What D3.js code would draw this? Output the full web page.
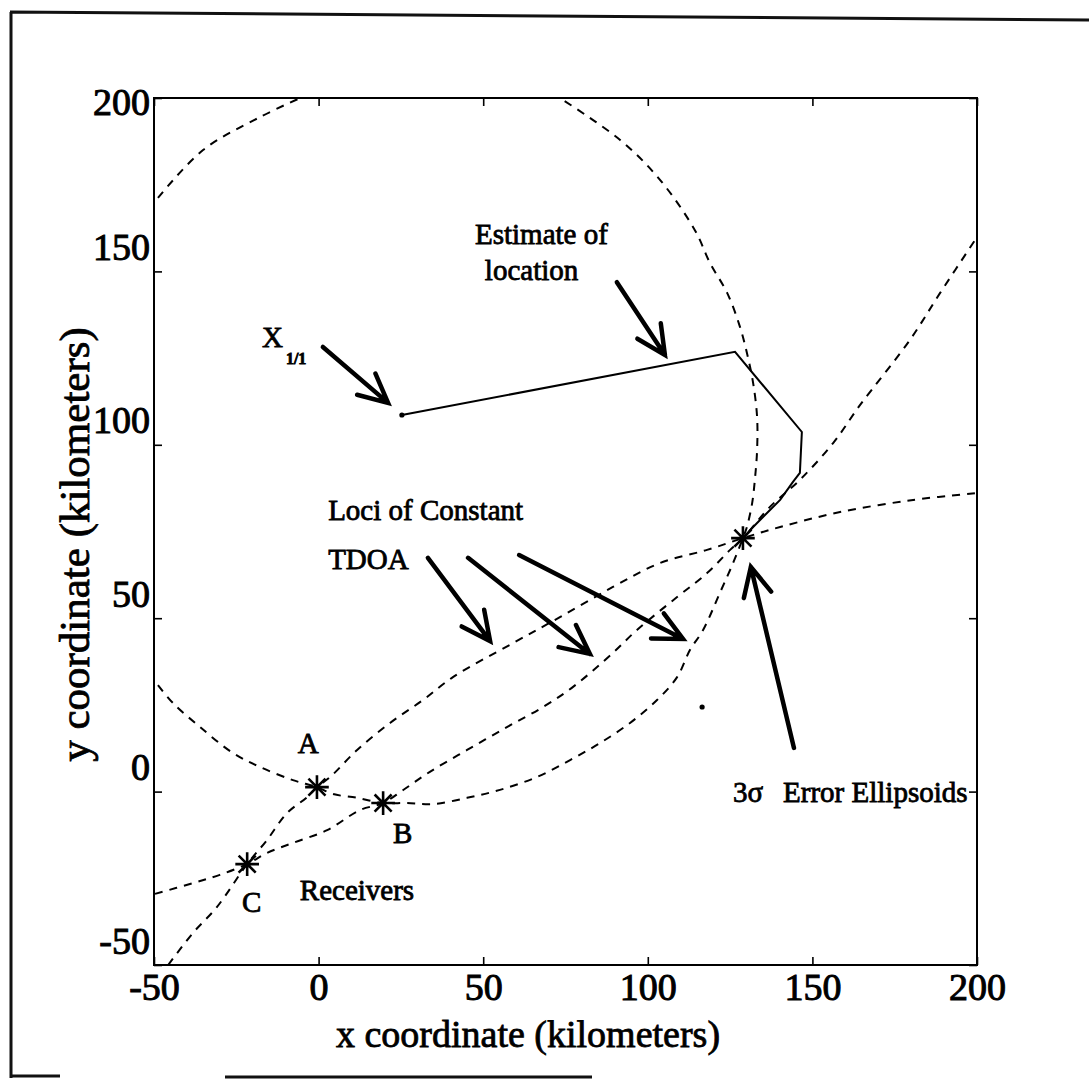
<!DOCTYPE html>
<html>
<head>
<meta charset="utf-8">
<script src="https://cdn.jsdelivr.net/npm/d3@7"></script>
<style>
  html, body { margin: 0; padding: 0; background: #fff; }
  svg { display: block; }
  text { font-family: "Liberation Serif", "Times New Roman", serif; fill: #000; }
</style>
</head>
<body>
<svg id="chart"></svg>
<script>
const W = 1089, H = 1088;
const box = { left: 154, right: 977, top: 98, bottom: 965 };

// axis ticks
const xTicks = [-50, 0, 50, 100, 150, 200];
const yTicks = [-50, 0, 50, 100, 150, 200];

// receivers and emitter position (km)
const receivers = [
  { name: "A", x: -0.5, y: 1.3 },
  { name: "B", x: 19.6, y: -3.3 },
  { name: "C", x: -21.7, y: -20.9 }
];
const emitter = [{ x: 128.9, y: 73.1 }];

// loci of constant TDOA (km)
const locusOneTop = [
  [-48.8, 171.2], [-35.1, 185.0], [-17.8, 194.5], [-5.6, 200]
];
const locusOne = [
  [-48.8, 30.7], [-44.2, 25.5], [-36.0, 18.6], [-26.0, 11.1], [-17.8, 7.1],
  [-7.8, 3.3], [-0.5, 1.3], [4.4, -0.7], [11.7, -1.8], [19.6, -3.3],
  [26.9, -3.3], [34.8, -3.6], [45.1, -1.8], [55.1, 0.5], [66.3, 4.2],
  [76.4, 9.1], [85.5, 14.0], [94.6, 19.8], [102.8, 26.4], [108.9, 33.0],
  [112.8, 40.8], [116.8, 46.6], [121.9, 57.3], [125.9, 65.9], [128.9, 73.1],
  [130.1, 76.3], [131.7, 83.2], [132.6, 90.7], [133.2, 98.5], [133.2, 108.0],
  [132.0, 117.8], [130.4, 125.3], [128.0, 134.0], [124.1, 143.8], [118.9, 152.4],
  [114.3, 161.9], [103.7, 176.4], [91.6, 187.9], [73.3, 200]
];
const locusTwo = [
  [-49.7, -29.5], [-38.2, -26.4], [-30.0, -24.0], [-21.7, -20.9], [-15.7, -17.7],
  [-7.8, -14.8], [2.6, -11.1], [12.6, -5.3], [19.6, -3.3], [25.6, 0.4],
  [33.8, 5.7], [45.1, 12.0], [57.2, 18.6], [68.2, 24.4], [77.3, 30.2],
  [89.4, 40.0], [96.7, 46.6], [108.9, 56.1], [118.0, 63.0], [125.0, 69.7],
  [128.9, 73.1], [137.1, 82.1], [146.2, 89.9], [156.3, 100.5], [164.5, 111.5],
  [179.6, 130.2], [188.8, 143.8], [200, 159.9]
];
const locusThree = [
  [-45.7, -50], [-38.2, -40.8], [-30.9, -33.3], [-21.7, -20.9], [-15.7, -14.0],
  [-9.6, -6.2], [-3.5, -1.6], [-0.5, 1.3], [3.5, 4.2], [11.7, 12.0],
  [21.7, 19.8], [31.7, 26.4], [40.8, 33.0], [59.0, 42.8], [73.3, 50.3],
  [89.4, 59.0], [103.7, 65.9], [118.0, 69.7], [128.9, 73.1], [140.2, 76.3],
  [158.4, 80.6], [180.6, 84.1], [200, 86.1]
];

// estimated location track (km)
const track = [
  [25.3, 108.6], [126.5, 126.8], [146.8, 103.7], [146.2, 91.9], [144.1, 89.3],
  [140.2, 84.1], [135.0, 79.2], [132.0, 76.3], [128.9, 73.1]
];
const dots = [[25.3, 108.6], [116.5, 24.4]];

// annotation arrows: tail -> tip (km)
const arrows = [
  [[1.3, 128.2], [21.1, 112.1]],
  [[90.6, 146.9], [105.2, 125.9]],
  [[33.2, 67.4], [52.1, 43.4]],
  [[45.4, 67.4], [82.4, 39.7]],
  [[60.9, 68.2], [110.7, 44.0]],
  [[144.4, 12.6], [131.3, 64.8]]
];

// annotation texts, left/baseline (km)
const notes = [
  { text: "Estimate of", x: 47.5, y: 157.9 },
  { text: "location", x: 50.5, y: 147.5 },
  { text: "Loci of Constant", x: 2.9, y: 78.3 },
  { text: "TDOA", x: 2.9, y: 64.2 },
  { text: "Receivers", x: -5.7, y: -31.3 },
  { text: "3\u03c3", x: 125.9, y: -3.0 },
  { text: "Error Ellipsoids", x: 141.1, y: -3.0 }
];
const labelPos = [
  { text: "A", x: -6.3, y: 11.1 },
  { text: "B", x: 22.6, y: -14.8 },
  { text: "C", x: -23.3, y: -34.7 }
];

const svg = d3.select("#chart").attr("width", W).attr("height", H);
svg.append("rect").attr("width", W).attr("height", H).attr("fill", "#fff");

// scanned page frame
svg.append("path")
  .attr("d", `M10,12 L1089,20 M11,12 L11,1078 M10,1076 L60,1076 M225,1077 L592,1077`)
  .attr("stroke", "#111").attr("stroke-width", 3).attr("fill", "none");

const x = d3.scaleLinear().domain([-50, 200]).range([box.left, box.right]);
const y = d3.scaleLinear().domain([-50, 200]).range([box.bottom, box.top]);

svg.append("defs").append("clipPath").attr("id", "plotclip")
  .append("rect")
  .attr("x", box.left).attr("y", box.top)
  .attr("width", box.right - box.left).attr("height", box.bottom - box.top);

// axes, ticks pointing inwards
const axisFont = 38;
const fmt = d => String(d);
const gx = svg.append("g")
  .attr("transform", `translate(0,${box.bottom})`)
  .call(d3.axisBottom(x).tickValues(xTicks).tickFormat(fmt).tickSizeInner(-8).tickSizeOuter(0).tickPadding(8));
const gy = svg.append("g")
  .attr("transform", `translate(${box.left},0)`)
  .call(d3.axisLeft(y).tickValues(yTicks).tickFormat(fmt).tickSizeInner(-8).tickSizeOuter(0).tickPadding(4));
svg.append("g")
  .attr("transform", `translate(0,${box.top})`)
  .call(d3.axisTop(x).tickValues(xTicks).tickSizeInner(-8).tickSizeOuter(0).tickFormat(""));
svg.append("g")
  .attr("transform", `translate(${box.right},0)`)
  .call(d3.axisRight(y).tickValues(yTicks).tickSizeInner(-8).tickSizeOuter(0).tickFormat(""));

svg.selectAll(".domain").remove();
svg.selectAll(".tick line").attr("stroke", "#000").attr("stroke-width", 1.6);
gx.selectAll(".tick text").attr("font-size", axisFont).attr("font-family", "Liberation Serif")
  .attr("fill", "#000").attr("stroke", "#000").attr("stroke-width", 1);
gy.selectAll(".tick text").attr("font-size", axisFont).attr("font-family", "Liberation Serif")
  .attr("fill", "#000").attr("stroke", "#000").attr("stroke-width", 1)
  .attr("y", d => d === 200 ? 4 : -24);

svg.append("rect")
  .attr("x", box.left).attr("y", box.top)
  .attr("width", box.right - box.left).attr("height", box.bottom - box.top)
  .attr("fill", "none").attr("stroke", "#000").attr("stroke-width", 2);

// axis titles
svg.append("text")
  .attr("x", 528).attr("y", 1047)
  .attr("text-anchor", "middle").attr("font-size", 38)
  .attr("stroke", "#000").attr("stroke-width", 0.8)
  .text("x coordinate (kilometers)");
svg.append("text")
  .attr("transform", `translate(89,${(box.top + box.bottom) / 2 + 13}) rotate(-90)`)
  .attr("text-anchor", "middle").attr("font-size", 43)
  .attr("stroke", "#000").attr("stroke-width", 0.8)
  .text("y coordinate (kilometers)");

// curves
const plot = svg.append("g").attr("clip-path", "url(#plotclip)");
const line = d3.line()
  .x(d => x(d[0]))
  .y(d => y(d[1]))
  .curve(d3.curveCatmullRom.alpha(0.5));

[locusOneTop, locusOne, locusTwo, locusThree].forEach(pts => {
  plot.append("path")
    .datum(pts)
    .attr("d", line)
    .attr("fill", "none")
    .attr("stroke", "#000")
    .attr("stroke-width", 2)
    .attr("stroke-dasharray", "8,7");
});

plot.append("path")
  .datum(track)
  .attr("d", d3.line().x(d => x(d[0])).y(d => y(d[1])))
  .attr("fill", "none")
  .attr("stroke", "#000")
  .attr("stroke-width", 2);

plot.selectAll(".dot")
  .data(dots)
  .enter().append("circle")
  .attr("cx", d => x(d[0]))
  .attr("cy", d => y(d[1]))
  .attr("r", 2.6)
  .attr("fill", "#000");

// MATLAB-style asterisk marker (plus and cross)
const asterisk = {
  draw(ctx, size) {
    const r = Math.sqrt(size) / 2;
    const k = r * 0.72;
    ctx.moveTo(0, -r); ctx.lineTo(0, r);
    ctx.moveTo(-r, 0); ctx.lineTo(r, 0);
    ctx.moveTo(-k, -k); ctx.lineTo(k, k);
    ctx.moveTo(-k, k); ctx.lineTo(k, -k);
  }
};
plot.selectAll(".star")
  .data(receivers.concat(emitter))
  .enter().append("path")
  .attr("transform", d => `translate(${x(d.x)},${y(d.y)})`)
  .attr("d", d3.symbol().type(asterisk).size(560))
  .attr("fill", "none")
  .attr("stroke", "#000")
  .attr("stroke-width", 2.6);

// annotation arrows with open heads
const headLen = 32, headAng = 26 * Math.PI / 180;
svg.selectAll(".arrow")
  .data(arrows)
  .enter().append("path")
  .attr("d", d => {
    const x0 = x(d[0][0]), y0 = y(d[0][1]), x1 = x(d[1][0]), y1 = y(d[1][1]);
    const a = Math.atan2(y0 - y1, x0 - x1);
    const p1 = [x1 + headLen * Math.cos(a + headAng), y1 + headLen * Math.sin(a + headAng)];
    const p2 = [x1 + headLen * Math.cos(a - headAng), y1 + headLen * Math.sin(a - headAng)];
    return `M${x0},${y0}L${x1},${y1}M${p1[0]},${p1[1]}L${x1},${y1}L${p2[0]},${p2[1]}`;
  })
  .attr("fill", "none")
  .attr("stroke", "#000")
  .attr("stroke-width", 4.5)
  .attr("stroke-linecap", "round")
  .attr("stroke-linejoin", "miter");

// annotation texts
const noteSize = 29;
svg.selectAll(".note")
  .data(notes.concat(labelPos))
  .enter().append("text")
  .attr("x", d => x(d.x))
  .attr("y", d => y(d.y))
  .attr("font-size", noteSize)
  .attr("stroke", "#000").attr("stroke-width", 0.8)
  .text(d => d.text);

const xl = svg.append("text")
  .attr("x", x(-17.2)).attr("y", y(128.2))
  .attr("font-size", noteSize)
  .attr("stroke", "#000").attr("stroke-width", 0.8);
xl.append("tspan").text("X");
xl.append("tspan").attr("dx", 3).attr("dy", 17).attr("font-size", 16).attr("font-weight", "bold").text("1/1");
</script>
</body>
</html>
